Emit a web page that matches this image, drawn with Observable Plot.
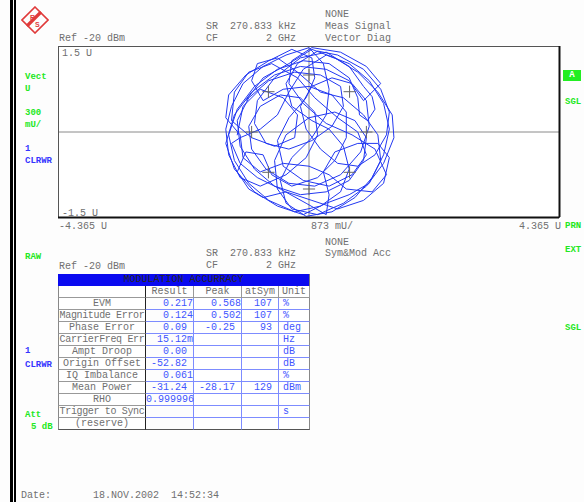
<!DOCTYPE html>
<html>
<head>
<meta charset="utf-8">
<script src="https://cdn.jsdelivr.net/npm/d3@7"></script>
<script src="https://cdn.jsdelivr.net/npm/@observablehq/plot@0.6"></script>
<style>
  html, body { margin: 0; padding: 0; background: #fdfdfd; }
  #page { position: relative; width: 584px; height: 502px; overflow: hidden; font-family: "Liberation Mono", "DejaVu Sans Mono", monospace; font-size: 10px; color: #707070; }
  .t { position: absolute; white-space: pre; line-height: 12px; }
  .g { color: #22e822; font-weight: bold; font-size: 9px; }
  .b { color: #3535ff; font-weight: bold; font-size: 9px; }
  .cell { position: absolute; box-sizing: border-box; height: 12px; line-height: 11px; white-space: pre; overflow: hidden; background: #fff; }
</style>
</head>
<body>
<div id="page"></div>
<script>
// ---- data ----
// I/Q trajectory points [I, Q] in U
const trajectory = [
 [-1.10,0.55],[-0.80,0.95],[-0.35,1.20],[0.05,1.45],[0.45,1.30],[0.85,1.05],[1.20,0.70],[1.45,0.30],[1.48,-0.10],[1.30,-0.55],
 [1.00,-0.95],[0.60,-1.25],[0.15,-1.45],[-0.30,-1.35],[-0.55,-1.00],[-0.60,-0.50],[-0.40,-0.05],[0.00,0.25],[0.45,0.35],[0.80,0.20],
 [1.00,-0.10],[0.95,-0.50],[0.70,-0.85],[0.30,-1.05],[-0.15,-1.10],[-0.60,-0.95],[-0.95,-0.65],[-1.20,-0.25],[-1.25,0.20],[-1.05,0.60],
 [-0.70,0.90],[-0.25,1.05],[0.20,1.00],[0.55,0.80],[0.60,0.45],[0.40,0.10],[0.05,-0.15],[-0.35,-0.30],[-0.75,-0.20],[-0.95,0.15],
 [-0.90,0.55],[-0.60,0.95],[-0.15,1.30],[0.30,1.40],[0.70,1.15],[0.95,0.80],[1.10,0.62],[1.15,0.40],[1.02,0.20],[0.88,0.30],
 [0.85,0.60],[0.70,0.95],[0.35,1.20],[-0.10,1.25],[-0.55,1.10],[-0.95,0.80],[-1.25,0.40],[-1.40,-0.05],[-1.30,-0.50],[-1.05,-0.90],
 [-0.70,-1.20],[-0.25,-1.40],[0.20,-1.30],[0.55,-1.05],[0.70,-0.65],[0.60,-0.25],[0.35,0.05],[0.05,0.20],[-0.30,0.45],[-0.40,0.85],
 [-0.20,1.20],[0.15,1.42],[0.50,1.35],[0.95,1.10],[1.25,0.75],[1.40,0.35],[1.35,-0.05],[1.15,-0.40],[0.85,-0.60],[0.50,-0.55],
 [0.20,-0.30],[-0.05,0.05],[-0.15,0.45],[0.05,0.80],[0.40,0.95],[0.75,0.85],[1.00,0.55],[1.05,0.10],[0.90,-0.35],[0.55,-0.75],
 [0.10,-0.95],[-0.35,-0.90],[-0.75,-0.65],[-1.00,-0.30],[-1.05,0.10],[-0.85,0.45],[-0.50,0.65],[-0.15,0.60],[0.10,0.35],[0.15,-0.05],
 [-0.05,-0.45],[-0.40,-0.75],[-0.85,-0.95],[-1.20,-0.80],[-1.40,-0.40],[-1.45,0.05],[-1.35,0.45],[-1.15,0.85],[-0.80,1.15],[-0.40,1.35],
 [0.00,1.48],[0.25,1.20],[0.35,0.75],[0.30,0.30],[0.05,-0.10],[-0.30,-0.45],[-0.50,-0.85],[-0.40,-1.25],[-0.05,-1.48],[0.40,-1.40],
 [0.80,-1.15],[1.10,-0.80],[1.30,-0.40],[1.40,0.05],[1.30,0.50],[1.05,0.90],[0.70,1.20],[0.30,1.35],[-0.10,1.10],[-0.35,0.70],
 [-0.55,0.30],[-0.85,0.05],[-1.20,-0.10],[-1.35,-0.20],[-1.20,-0.55],[-0.90,-0.80],[-0.50,-1.00],[-0.05,-1.25],[0.30,-1.45],[0.35,-1.10],
 [0.25,-0.70],[0.45,-0.35],[0.85,-0.20],[1.20,-0.20],[1.40,-0.45],[1.30,-0.90],[0.95,-1.20],[0.50,-1.35],[0.05,-1.20],[-0.40,-1.05],
 [-0.80,-1.15],[-1.05,-1.00],[-1.25,-0.70],[-1.10,-0.35],[-0.80,-0.40],[-0.65,-0.75],[-0.30,-0.95],[0.15,-0.80],[0.45,-0.50],[0.65,-0.10],
 [0.65,0.35],[0.40,0.65],[0.00,0.80],[-0.45,0.75],[-0.80,0.55],[-1.00,0.90],[-0.90,1.20],[-0.55,1.30],[-0.20,1.05],[0.20,0.70],
 [0.60,0.60],[0.95,0.30],[1.20,-0.05],[1.25,-0.50],[1.05,-0.90],[0.70,-1.10],[0.30,-1.25],[-0.10,-1.45],[-0.55,-1.30],[-0.95,-1.05],
 [-1.30,-0.65],[-1.45,-0.20],[-1.30,0.30],[-1.00,0.70],[-0.60,1.00],[-0.15,1.15],[0.30,1.10],[0.70,0.90],[0.95,0.55],[1.25,0.85],
 [1.00,1.15],[0.55,1.40],[0.05,1.48],[-0.30,1.25],[-0.35,0.85],[-0.10,0.50],[0.30,0.15],[0.75,-0.05],[1.15,-0.30],[1.35,-0.75],
 [1.10,-1.05],[0.65,-1.00],[0.35,-0.75],[0.00,-0.60],[-0.45,-0.55],[-0.85,-0.70],[-1.15,-0.45],[-1.20,-0.05],[-1.45,0.25],[-1.40,0.65],
 [-1.10,1.00],[-0.70,1.25],[-0.30,1.45],[0.05,1.30],[0.10,0.95],[-0.05,0.60],[-0.35,0.25],[-0.55,-0.15],[-0.45,-0.60],[-0.10,-0.85],
 [0.35,-0.95],[0.75,-0.75],[1.00,-0.40],[0.85,0.00],[0.50,0.25],[0.10,0.60],[-0.20,0.95],[-0.65,1.20],[-1.05,1.05],[-1.30,0.70],
 [-1.35,0.20],[-1.00,-0.10],[-0.60,-0.25],[-0.25,-0.10],[-0.20,0.30],[-0.45,0.60],[-0.85,0.75],[-1.15,0.45],[-1.25,-0.05]
];
const idealI = [1, 0.707, 0, -0.707, -1, -0.707, 0, 0.707];
const idealQ = [0, 0.707, 1, 0.707, 0, -0.707, -1, -0.707];
const xTicks = ["-4.365 U", "873 mU/", "4.365 U"];
const yTicks = ["1.5 U", "-1.5 U"];

const rowLabels = ["EVM","Magnitude Error","Phase Error","CarrierFreq Err","Ampt Droop","Origin Offset","IQ Imbalance","Mean Power","RHO","Trigger to Sync","(reserve)"];
const results = ["0.217","0.124","0.09 ","15.12m","0.00 ","-52.82 ","0.061","-31.24 ","0.999996","",""];
const peaks = ["0.568","0.502","-0.25 ","","","","","-28.17 ","","",""];
const atSyms = ["107 ","107 ","93 ","","","","","129 ","","",""];
const units = ["%","%","deg","Hz","dB","dB","%","dBm","","s",""];
const colHeads = ["", "Result", "Peak", "atSym", "Unit"];

// ---- page ----
const page = document.getElementById("page");
function txt(s, x, y, cls, extra) {
  const d = document.createElement("div");
  d.className = "t" + (cls ? " " + cls : "");
  d.textContent = s;
  d.style.left = x + "px"; d.style.top = (y + 1.5) + "px";
  if (extra) Object.assign(d.style, extra);
  page.appendChild(d);
  return d;
}

// left double bar
const bar1 = document.createElement("div");
Object.assign(bar1.style, {position:"absolute", left:"10px", top:"0", width:"2.5px", height:"502px", background:"#000"});
page.appendChild(bar1);
const bar2 = document.createElement("div");
Object.assign(bar2.style, {position:"absolute", left:"14px", top:"0", width:"1.5px", height:"502px", background:"#000"});
page.appendChild(bar2);

// logo
page.insertAdjacentHTML("beforeend",
 `<svg style="position:absolute;left:21px;top:6px" width="28" height="28" viewBox="0 0 28 28">
   <polygon points="14,1 27,14 14,27 1,14" fill="none" stroke="#e03a3a" stroke-width="1.6"/>
   <line x1="6" y1="20" x2="20" y2="6" stroke="#e03a3a" stroke-width="3.2"/>
   <text x="9" y="14" font-size="7" fill="#e03a3a" font-family="Liberation Sans" font-weight="bold">R</text>
   <text x="14" y="21" font-size="7" fill="#e03a3a" font-family="Liberation Sans" font-weight="bold">S</text>
 </svg>`);

// header texts
txt("NONE", 325, 7);
txt("SR  270.833 kHz", 206, 19);
txt("Meas Signal", 325, 19);
txt("Ref -20 dBm", 59, 31);
txt("CF        2 GHz", 206, 31);
txt("Vector Diag", 325, 31);

// left side labels
txt("Vect", 25, 69, "g");
txt("U", 25, 81, "g");
txt("300", 25, 105, "g");
txt("mU/", 25, 117, "g");
txt("1", 25, 141, "b");
txt("CLRWR", 25, 153, "b");
txt("RAW", 25, 249, "g");
txt("1", 25, 343, "b");
txt("CLRWR", 25, 357, "b");
txt("Att", 25, 407, "g");
txt("5 dB", 31, 419, "g");

// right side labels
const abox = document.createElement("div");
Object.assign(abox.style, {position:"absolute", left:"563px", top:"70px", width:"18px", height:"11px", background:"#22ee22", color:"#fff", fontWeight:"bold", fontSize:"9px", textAlign:"center", lineHeight:"11px"});
abox.textContent = "A";
page.appendChild(abox);
txt("SGL", 565, 94, "g");
txt("PRN", 565, 218, "g");
txt("EXT", 565, 242, "g");
txt("SGL", 565, 320, "g");

// ---- vector diagram (Observable Plot) ----
const traj = trajectory.map(([i, q]) => ({i, q}));
const ideal = idealI.map((v, k) => ({i: v, q: idealQ[k]}));
const chart = Plot.plot({
  width: 504, height: 174,
  marginLeft: 1, marginTop: 1, marginRight: 2, marginBottom: 2,
  x: {domain: [-4.365, 4.365], axis: null},
  y: {domain: [-1.5, 1.5], axis: null},
  style: {background: "#fff", overflow: "visible"},
  marks: [
    Plot.ruleY([0], {stroke: "#8a8a8a", strokeWidth: 1}),
    Plot.ruleX([0], {stroke: "#8a8a8a", strokeWidth: 1}),
    Plot.line(traj, {x: "i", y: "q", stroke: "#2238f2", strokeWidth: 1, curve: "linear"}),
    Plot.dot(ideal, {x: "i", y: "q", symbol: "plus", r: 4, stroke: "#666", strokeWidth: 1}),
    Plot.frame({stroke: "#555", strokeWidth: 1}),
    Plot.ruleX([4.365], {stroke: "#111", strokeWidth: 2}),
    Plot.ruleY([-1.5], {stroke: "#111", strokeWidth: 2})
  ]
});
chart.style.position = "absolute";
chart.style.left = "57px";
chart.style.top = "45px";
page.appendChild(chart);

// axis texts
txt(yTicks[0], 62, 46);
txt(yTicks[1], 62, 206);
txt(xTicks[0], 59, 219);
txt(xTicks[1], 311, 219);
txt(xTicks[2], 519, 219);

// second header
txt("NONE", 325, 235);
txt("SR  270.833 kHz", 206, 246);
txt("Sym&Mod Acc", 325, 246);
txt("Ref -20 dBm", 59, 259);
txt("CF        2 GHz", 206, 258);

// ---- table ----
const xs = [58, 146, 194, 242, 279, 310];
const y0 = 274;
const rh = 12;
function cell(s, c, r, opts) {
  const d = document.createElement("div");
  d.className = "cell";
  d.textContent = s;
  d.style.left = xs[c] + "px";
  d.style.top = (y0 + r * rh) + "px";
  d.style.width = (xs[c + 1] - xs[c]) + "px";
  Object.assign(d.style, opts || {});
  page.appendChild(d);
}
// title row
const head = document.createElement("div");
Object.assign(head.style, {position:"absolute", left:"58px", top:"274px", width:"252px", height:"12px", background:"#0a0af0", color:"#262626", textAlign:"center", lineHeight:"12px", boxSizing:"border-box", borderRight:"1px solid #777", whiteSpace:"pre"});
head.textContent = "MODULATION ACCURRACY";
page.appendChild(head);
// column head row
colHeads.forEach((h, c) => {
  cell(h, c, 1, {textAlign: "center", borderBottom: "1px solid #999", borderRight: c === 0 ? "1px solid #222" : "1px solid #999", borderLeft: c === 0 ? "1px solid #888" : "none"});
});
const blueText = "#3f55ff";
const blueLine = "1px solid #7d8cff";
rowLabels.forEach((lab, k) => {
  const r = k + 2;
  const last = k === rowLabels.length - 1;
  const long = lab.length > 13;
  cell(lab, 0, r, {textAlign: "center", borderLeft: "1px solid #888", borderBottom: last ? "1px solid #555" : "1px solid #999", borderRight: "1px solid #222", letterSpacing: long ? "-0.35px" : "0", overflow: "visible"});
  cell(results[k], 1, r, {textAlign: "right", color: blueText, borderBottom: last ? "1px solid #555" : blueLine, borderRight: blueLine, overflow: "visible", background: "transparent"});
  cell(peaks[k], 2, r, {textAlign: "right", color: blueText, borderBottom: last ? "1px solid #555" : blueLine, borderRight: blueLine});
  cell(atSyms[k], 3, r, {textAlign: "right", color: blueText, borderBottom: last ? "1px solid #555" : blueLine, borderRight: blueLine});
  cell(units[k], 4, r, {textAlign: "left", paddingLeft: "4px", color: blueText, borderBottom: last ? "1px solid #555" : blueLine, borderRight: "1px solid #888"});
});

// date
txt("Date:       18.NOV.2002  14:52:34", 21, 488);
</script>
</body>
</html>
